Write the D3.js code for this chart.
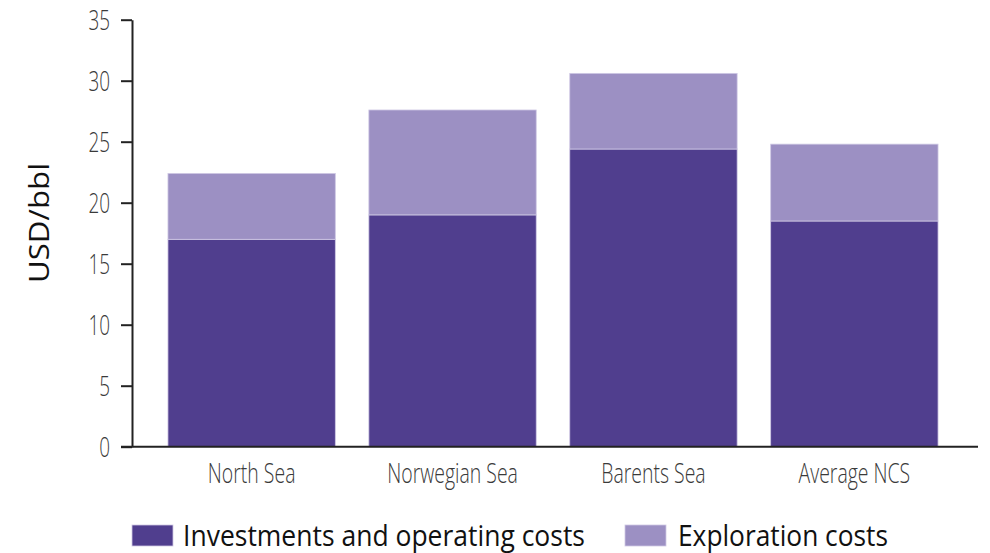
<!DOCTYPE html>
<html>
<head>
<meta charset="utf-8">
<script src="https://cdn.jsdelivr.net/npm/d3@7"></script>
<style>
  html, body { margin: 0; padding: 0; background: #fff; }
  svg { display: block; }
  text { font-family: "Open Sans", "Noto Sans", sans-serif; }
</style>
</head>
<body>
<svg id="chart" width="990" height="553"></svg>
<script>
// ---- data ----
const categories = ["North Sea", "Norwegian Sea", "Barents Sea", "Average NCS"];
const investments = [17.0, 19.0, 24.4, 18.5];
const exploration = [5.4, 8.6, 6.2, 6.3];
const seriesNames = ["Investments and operating costs", "Exploration costs"];
const yTicks = [0, 5, 10, 15, 20, 25, 30, 35];
const yTitle = "USD/bbl";

// ---- layout ----
const colors = ["#503e8e", "#9c90c3"];
const svg = d3.select("#chart");
const x0 = 132, x1 = 974, axisEnd = 978, yBottom = 446.7, yTop = 19.7;

const x = d3.scaleBand().domain(categories).range([x0, x1])
  .paddingInner(0.167).paddingOuter(0.179);
const y = d3.scaleLinear().domain([0, 35]).range([yBottom, yTop]);

const rows = categories.map((c, i) => ({cat: c, inv: investments[i], exp: exploration[i]}));
const stack = d3.stack().keys(["inv", "exp"])(rows);

svg.append("g").selectAll("g").data(stack).join("g")
  .attr("fill", (d, i) => colors[i])
  .selectAll("rect").data(d => d).join("rect")
  .attr("x", d => x(d.data.cat))
  .attr("width", x.bandwidth())
  .attr("y", d => y(d[1]))
  .attr("height", d => y(d[0]) - y(d[1]))
  .attr("stroke", "#cfc8e4")
  .attr("stroke-width", 0.8);

function condense(sel, f) {
  sel.each(function() {
    const w = this.getComputedTextLength();
    d3.select(this).attr("textLength", w * f).attr("lengthAdjust", "spacingAndGlyphs");
  });
}

// y axis
const yAxis = svg.append("g").attr("transform", `translate(${x0},0)`)
  .call(d3.axisLeft(y).tickValues(yTicks).tickSize(11).tickPadding(11).tickSizeOuter(0));
yAxis.select(".domain").attr("stroke", "#222").attr("stroke-width", 2);
yAxis.selectAll(".tick line").attr("stroke", "#222").attr("stroke-width", 2);
yAxis.selectAll(".tick text")
  .attr("font-size", 27).attr("fill", "#3a3a3a").attr("font-weight", 300)
  .attr("font-family", "'Open Sans', sans-serif").attr("dy", "0.36em");
condense(yAxis.selectAll(".tick text"), 0.70);

// x axis
const xAxis = svg.append("g").attr("transform", `translate(0,${yBottom})`)
  .call(d3.axisBottom(x).tickSize(0).tickPadding(17).tickSizeOuter(0));
xAxis.select(".domain").attr("stroke", "#222").attr("stroke-width", 2)
  .attr("d", `M${x0 - 11},0H${axisEnd}`);
xAxis.selectAll(".tick text")
  .attr("font-size", 27).attr("fill", "#3a3a3a").attr("font-weight", 300)
  .attr("font-family", "'Open Sans', sans-serif");
condense(xAxis.selectAll(".tick text"), 0.72);

// y title
svg.append("text")
  .attr("transform", "translate(49,223) rotate(-90)")
  .attr("text-anchor", "middle")
  .attr("font-size", 28)
  .attr("fill", "#111")
  .attr("textLength", 120).attr("lengthAdjust", "spacingAndGlyphs")
  .text(yTitle);

// legend
const legendPos = [{sx: 132, tx: 183, tw: 402}, {sx: 625, tx: 678, tw: 210}];
const lg = svg.append("g");
seriesNames.forEach((name, i) => {
  lg.append("rect").attr("x", legendPos[i].sx).attr("y", 525)
    .attr("width", 41).attr("height", 21).attr("fill", colors[i])
    .attr("stroke", "#cfc8e4").attr("stroke-width", 0.8);
  lg.append("text").attr("x", legendPos[i].tx).attr("y", 546)
    .attr("font-size", 29).attr("fill", "#111")
    .attr("textLength", legendPos[i].tw).attr("lengthAdjust", "spacingAndGlyphs")
    .text(name);
});
</script>
</body>
</html>
